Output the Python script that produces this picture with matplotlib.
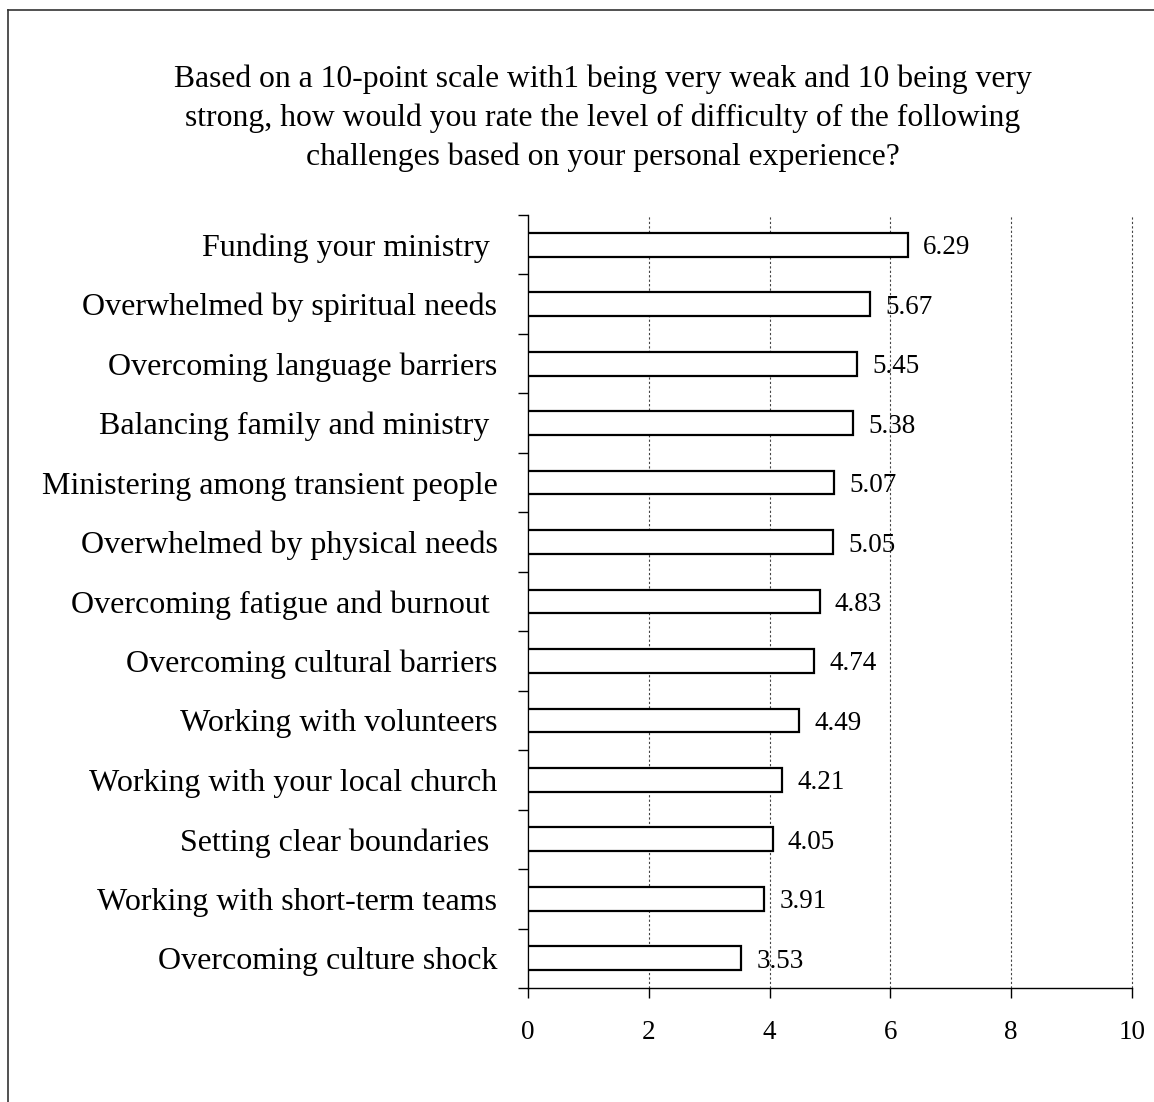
import matplotlib
matplotlib.use("Agg")
import matplotlib.pyplot as plt
from matplotlib.lines import Line2D
import numpy as np

plt.rcParams["font.family"] = ["Liberation Serif", "DejaVu Serif"]

categories = [
    "Funding your ministry ",
    "Overwhelmed by spiritual needs",
    "Overcoming language barriers",
    "Balancing family and ministry ",
    "Ministering among transient people",
    "Overwhelmed by physical needs",
    "Overcoming fatigue and burnout ",
    "Overcoming cultural barriers",
    "Working with volunteers",
    "Working with your local church",
    "Setting clear boundaries ",
    "Working with short-term teams",
    "Overcoming culture shock",
]
scores = [6.29, 5.67, 5.45, 5.38, 5.07, 5.05, 4.83, 4.74, 4.49, 4.21, 4.05, 3.91, 3.53]
x_ticks = [0, 2, 4, 6, 8, 10]

title = ("Based on a 10-point scale with1 being very weak and 10 being very\n"
         "strong, how would you rate the level of difficulty of the following\n"
         "challenges based on your personal experience?")

fig = plt.figure(figsize=(11.54, 11.02), dpi=100)
ax = fig.add_axes([528 / 1154, 1 - 988 / 1102, 604 / 1154, 773 / 1102])

y = np.arange(len(categories))
ax.barh(y, scores, height=0.4, color="white", edgecolor="black", linewidth=1.6, zorder=3)
for yi, v in zip(y, scores):
    ax.text(v + 0.25, yi + 0.05, f"{v:.2f}", va="center", ha="left", fontsize=19.5, zorder=4)

ax.set_xlim(0, 10)
ax.set_ylim(len(categories) - 0.5, -0.5)
ax.set_xticks(x_ticks)
ax.set_xticklabels([str(t) for t in x_ticks], fontsize=19.5)
ax.set_yticks(y)
ax.set_yticklabels(categories, fontsize=23)
ax.set_yticks(np.arange(len(categories) + 1) - 0.5, minor=True)
ax.tick_params(axis="y", which="major", length=0, pad=22)
ax.tick_params(axis="y", which="minor", length=7, width=1, direction="out")
ax.tick_params(axis="x", length=7, width=1, direction="out", pad=16)

# dotted vertical grid
for t in x_ticks[1:]:
    ax.axvline(t, color="#444444", linestyle=(0, (2, 2)), linewidth=0.8, zorder=1,
               clip_on=False)

for s in ["top", "right"]:
    ax.spines[s].set_visible(False)
ax.spines["left"].set_linewidth(1)
ax.spines["bottom"].set_linewidth(1)

fig.text(603 / 1154, 1 - 118 / 1102, title, ha="center", va="center",
         fontsize=22.8, linespacing=1.42)

# frame drawn around the chart (left and top edges visible)
fig.add_artist(Line2D([8 / 1154, 8 / 1154], [0, 1 - 10 / 1102], color="#333333",
                      linewidth=1.2, transform=fig.transFigure))
fig.add_artist(Line2D([8 / 1154, 1], [1 - 10 / 1102, 1 - 10 / 1102], color="#333333",
                      linewidth=1.2, transform=fig.transFigure))

fig.savefig("out.png", dpi=100)
